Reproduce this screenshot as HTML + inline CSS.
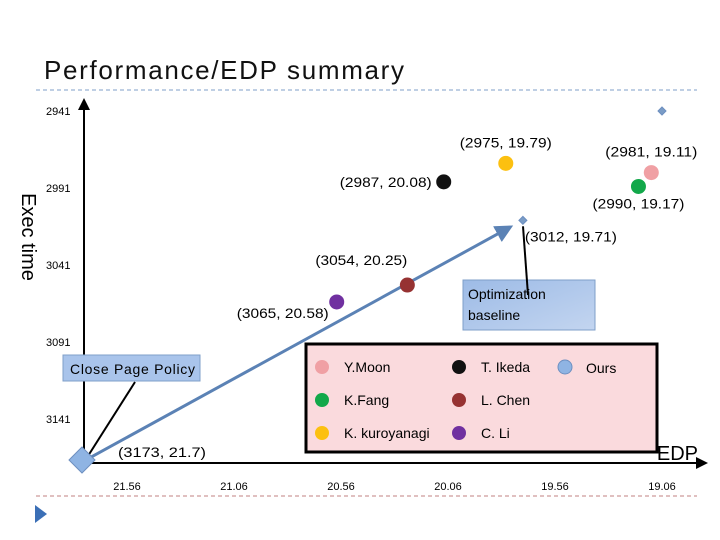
<!DOCTYPE html>
<html><head><meta charset="utf-8"><style>
html,body{margin:0;padding:0;background:#fff;}
svg{display:block;font-family:"Liberation Sans",sans-serif;}
</style></head><body>
<svg id="chart" width="720" height="540" viewBox="0 0 720 540">
<defs>
<linearGradient id="bg1" x1="0" y1="0" x2="1" y2="1"><stop offset="0" stop-color="#9dbbe6"/><stop offset="1" stop-color="#c3d5f0"/></linearGradient>
<marker id="ah" markerWidth="6" markerHeight="6" refX="4" refY="3" orient="auto"><path d="M0,0 L6,3 L0,6 z" fill="#000"/></marker>
<marker id="bh" markerWidth="6" markerHeight="6" refX="4" refY="3" orient="auto"><path d="M0,0 L6,3 L0,6 z" fill="#5b82b5"/></marker>
</defs>
<text x="44" y="79" font-size="26" fill="#111" textLength="360">Performance/EDP summary</text>
<line x1="36" y1="90" x2="697" y2="90" stroke="#7f9fc8" stroke-dasharray="4,3"/>
<line x1="36" y1="496" x2="697" y2="496" stroke="#c08080" stroke-dasharray="4,3"/>
<path d="M35,505 L47,514 L35,523 z" fill="#3b6fb6"/>
<line x1="84" y1="463" x2="84" y2="102" stroke="#000" stroke-width="2" marker-end="url(#ah)"/>
<line x1="84" y1="463" x2="704" y2="463" stroke="#000" stroke-width="2" marker-end="url(#ah)"/>
<text transform="translate(22,237) rotate(90)" text-anchor="middle" font-size="20">Exec time</text>
<text x="698" y="460" text-anchor="end" font-size="20">EDP</text>
<g id="yt"></g><g id="xt"></g>
<rect x="306" y="344" width="351" height="108" fill="#fadadd" stroke="#000" stroke-width="3"/>
<g id="legend"></g>
<rect x="463" y="280" width="132" height="50" fill="url(#bg1)" stroke="#7f9fc8"/>
<text x="468" y="299" font-size="14">Optimization</text>
<text x="468" y="320" font-size="14">baseline</text>
<rect x="63" y="355" width="137" height="26" fill="#a9c4eb" stroke="#7f9fc8"/>
<text x="70" y="374" font-size="14" textLength="125">Close Page Policy</text>
<g id="marks"></g>
</svg>
<script>
const NS="http://www.w3.org/2000/svg";
const yTicks=[2941,2991,3041,3091,3141];
const xTicks=[21.56,21.06,20.56,20.06,19.56,19.06];
const names=["Y.Moon","K.Fang","K. kuroyanagi","T. Ikeda","L. Chen","C. Li","Ours"];
const colors=["#f0a0a4","#12a84a","#fcc010","#111111","#963232","#7030a0","#8fb4e3"];
const execs=[2981,2990,2975,2987,3054,3065];
const edps=[19.11,19.17,19.79,20.08,20.25,20.58];
const oursExec=[3173,3012,2941];
const oursEdp=[21.7,19.71,19.06];
function Y(v){return 111+(v-2941)*1.54;}
function X(v){return 127+(21.56-v)*214;}
function mk(t,a,p){const e=document.createElementNS(NS,t);for(const k in a)e.setAttribute(k,a[k]);(p||document.getElementById('marks')).appendChild(e);return e;}
const yt=document.getElementById('yt'),xt=document.getElementById('xt');
yTicks.forEach((v,i)=>{const t=mk('text',{x:46,y:Y(v)+4,'font-size':11},yt);t.textContent=v;

});
xTicks.forEach((v,i)=>{const t=mk('text',{x:X(v),y:490,'font-size':11,'text-anchor':'middle'},xt);t.textContent=v.toFixed(2);

});
const l1=mk('line',{x1:135,y1:382,x2:88,y2:456,stroke:'#000','stroke-width':2});


const l2=mk('line',{x1:528,y1:295,x2:523,y2:Y(oursExec[1])+6,stroke:'#000','stroke-width':2});


const ar=mk('line',{x1:X(oursEdp[0])-10,y1:Y(oursExec[0])-9,x2:X(oursEdp[1])-15,y2:Y(oursExec[1])+8,stroke:'#5b82b5','stroke-width':3,'marker-end':'url(#bh)'});


const offs=[[0,-16,'middle'],[0,22,'middle'],[0,-16,'middle'],[-12,5,'end'],[0,-20,'end'],[-8,16,'end']];
execs.forEach((e,i)=>{const cx=X(edps[i]),cy=Y(e);
const c=mk('circle',{cx:cx,cy:cy,r:7.5,fill:colors[i]});


const o=offs[i];
const t=mk('text',{x:cx+o[0],y:cy+o[1],'font-size':14,'text-anchor':o[2],'textLength':92,'lengthAdjust':'spacingAndGlyphs'});t.textContent='('+e+', '+edps[i]+')';

});
oursExec.forEach((e,i)=>{const cx=i==0?82:X(oursEdp[i]),cy=i==0?460:Y(e);const s=i==0?13:4;
const d=mk('path',{d:`M${cx},${cy-s} L${cx+s},${cy} L${cx},${cy+s} L${cx-s},${cy} z`,fill:i==0?'#8fb4e3':'#7a9cc6',stroke:'#6d8fc0'});


if(i<2){const t=mk('text',{x:i==0?118:cx+2,y:i==0?cy-3:cy+21,'font-size':14,'textLength':i==0?88:92,'lengthAdjust':'spacingAndGlyphs'});t.textContent='('+e+', '+oursEdp[i]+')';

}});
const lg=document.getElementById('legend');
const lpos=[[322,367],[322,400],[322,433],[459,367],[459,400],[459,433],[565,367]];
names.forEach((n,i)=>{const p=lpos[i];
const c=mk('circle',{cx:p[0],cy:p[1],r:7,fill:colors[i],stroke:i==6?'#6d8fc0':'none'},lg);


const t=mk('text',{x:p[0]+(i==6?21:22),y:p[1]+(i==6?6:5),'font-size':14},lg);t.textContent=n;

});
</script>
</body></html>
